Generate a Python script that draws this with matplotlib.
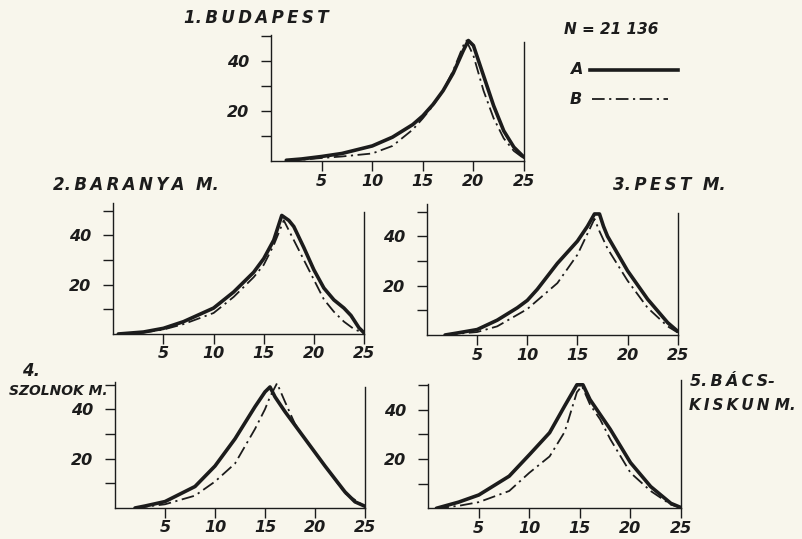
import matplotlib
matplotlib.use("Agg")
import matplotlib.pyplot as plt

BG = "#f8f6ec"
INK = "#1c1c1c"

# ---- data (x = category value, y = percentage) ----
bud_x_a = [1.5, 3, 5, 7, 10, 12, 14, 15, 16, 17, 18, 19, 19.5, 20, 21, 22, 23, 24, 25]
bud_y_a = [0.3, 0.8, 1.8, 3.0, 6.0, 9.5, 14.5, 18, 22.5, 28, 35, 44, 48, 46, 34, 22, 12, 5.5, 1.5]
bud_x_b = [1.5, 3, 5, 7, 10, 12, 14, 15, 16, 17, 18, 19, 19.3, 20, 21, 22, 23, 24, 25]
bud_y_b = [0.2, 0.5, 1.2, 1.8, 3.0, 6.0, 12.5, 17, 22, 28, 36, 46, 48, 42, 28, 17, 9, 4, 1]

bar_x_a = [0.5, 3, 5, 7, 10, 12, 14, 15, 16, 16.8, 17.5, 18, 19, 20, 21, 22, 23, 23.7, 24.5, 25]
bar_y_a = [0, 0.8, 2.3, 5, 10.5, 17, 25, 30.5, 38, 48, 46, 43.5, 35, 26, 18.6, 13.8, 10.5, 7.5, 2.5, 0.5]
bar_x_b = [0.5, 3, 5, 7, 10, 12, 14, 15, 16, 17, 17.5, 18, 19, 20, 21, 22, 23, 24, 25]
bar_y_b = [0, 0.6, 1.8, 4, 8.5, 15, 23, 28, 36, 46, 42, 38, 30, 22, 14, 9, 5, 2, 0.3]

pest_x_a = [1.8, 3, 5, 7, 9, 10, 11, 13, 15, 16, 16.7, 17.2, 17.6, 18, 20, 22, 24, 25]
pest_y_a = [0, 0.8, 2.2, 6, 11, 14, 18.5, 29, 38, 44, 49, 49, 44, 40, 26, 14.5, 5, 1.5]
pest_x_b = [1.8, 3, 5, 7, 10, 13, 15, 16, 16.7, 17.2, 18, 20, 22, 24, 25]
pest_y_b = [0, 0.5, 1.2, 3.5, 10.5, 21, 32.5, 41, 47, 42, 35, 22, 11, 3.5, 1]

szo_x_a = [2, 3, 5, 8, 10, 12, 14, 15, 15.5, 16, 17, 19, 21, 23, 24, 25]
szo_y_a = [0, 0.8, 2.6, 8.7, 17, 28, 41, 47, 49, 45, 39, 28, 17, 6.5, 2.5, 0.7]
szo_x_b = [2, 3, 5, 8, 10, 12, 14, 15, 15.5, 16.2, 17, 18, 19, 21, 23, 25]
szo_y_b = [0, 0.5, 1.5, 5, 10.7, 18, 32, 40, 45, 50.5, 43, 34, 28, 17, 6, 0.5]

bac_x_a = [0.8, 3, 5, 8, 10, 12, 13.5, 14.7, 15.3, 16, 18, 20, 22, 24, 25]
bac_y_a = [0, 2.5, 5.4, 13, 21.7, 30.6, 41.5, 50, 50, 44, 32, 18.5, 8.8, 2, 0.3]
bac_x_b = [0.8, 3, 5, 8, 10, 12, 13.5, 14.7, 15.2, 16, 17, 18, 20, 22, 24, 25]
bac_y_b = [0, 1, 2.5, 7, 14.4, 21, 31, 47, 49.5, 42, 36, 28, 14.4, 7, 1.5, 0.2]

xticks = [5, 10, 15, 20, 25]
yticks_major = [20, 40]
yticks_minor = [10, 30, 50]

W, H = 802, 539
fig = plt.figure(figsize=(W / 100, H / 100), dpi=100)
fig.patch.set_facecolor(BG)

# panel geometry in pixels: x of 0, x of 25, y of 0, px per unit, top of left spine, top of right spine
panels = [
    (271.1, 524.0, 161.0, 2.51, 50.3, 47.5, bud_x_a, bud_y_a, bud_x_b, bud_y_b),
    (113.3, 364.0, 334.0, 2.47, 53.0, 49.5, bar_x_a, bar_y_a, bar_x_b, bar_y_b),
    (427.0, 677.7, 335.0, 2.47, 53.0, 49.5, pest_x_a, pest_y_a, pest_x_b, pest_y_b),
    (115.0, 365.0, 508.0, 2.47, 51.0, 49.0, szo_x_a, szo_y_a, szo_x_b, szo_y_b),
    (428.3, 681.0, 508.3, 2.47, 50.5, 52.0, bac_x_a, bac_y_a, bac_x_b, bac_y_b),
]

DASHDOT = (0, (7, 2.5, 1.2, 2.5))

for (x0, x25, y0, sc, ltop, rtop, xa, ya, xb, yb) in panels:
    top = max(ltop, rtop)
    ax = fig.add_axes([x0 / W, (H - y0) / H, (x25 - x0) / W, top * sc / H])
    ax.set_facecolor("none")
    ax.set_xlim(0, 25)
    ax.set_ylim(0, top)
    ax.plot(xa, ya, color=INK, lw=2.6, solid_joinstyle="round", solid_capstyle="round")
    ax.plot(xb, yb, color=INK, lw=1.3, linestyle=DASHDOT)
    ax.spines["top"].set_visible(False)
    for s in ["left", "right", "bottom"]:
        ax.spines[s].set_color(INK)
        ax.spines[s].set_linewidth(1.0)
    ax.spines["left"].set_bounds(0, ltop)
    ax.spines["right"].set_bounds(0, rtop)
    ax.set_xticks(xticks)
    ax.set_xticklabels([str(t) for t in xticks], fontsize=11.5, fontstyle="italic",
                       fontweight="bold", color=INK)
    ax.set_yticks(yticks_major)
    ax.set_yticklabels([str(t) for t in yticks_major], fontsize=11.5, fontstyle="italic",
                       fontweight="bold", color=INK)
    ax.set_yticks(yticks_minor, minor=True)
    ax.tick_params(axis="both", which="both", direction="out", length=7, width=1.0,
                   color=INK)
    ax.tick_params(axis="y", which="major", pad=9)
    ax.tick_params(axis="x", which="major", pad=2)


def ftext(x, y, s, size=12.5):
    fig.text(x / W, 1 - y / H, s, va="center", ha="left", fontsize=size,
             family="DejaVu Sans", style="italic", weight="bold", color=INK)


HS = "\u2009"
ftext(184, 18, "1." + HS + HS.join("BUDAPEST"), 12)
ftext(564, 29, "N = 21 136", 11)
ftext(570, 70, "A", 11.5)
ftext(570, 99, "B", 11.5)
fig.add_artist(plt.Line2D([590 / W, 678 / W], [1 - 70 / H, 1 - 70 / H], color=INK, lw=2.6))
fig.add_artist(plt.Line2D([592 / W, 668 / W], [1 - 99 / H, 1 - 99 / H], color=INK, lw=1.3,
                          linestyle=DASHDOT))
ftext(53, 185, "2." + HS + HS.join("BARANYA") + "  M.", 12)
ftext(613, 185, "3." + HS + HS.join("PEST") + "  M.", 12)
ftext(22, 371, "4.", 12)
ftext(9, 391, "SZOLNOK M.", 10)
ftext(690, 382, "5." + HS + HS.join("BÁCS") + "-", 11.5)
ftext(689, 405, HS.join("KISKUN") + " M.", 11)

fig.savefig("out.png", dpi=100, facecolor=BG)
